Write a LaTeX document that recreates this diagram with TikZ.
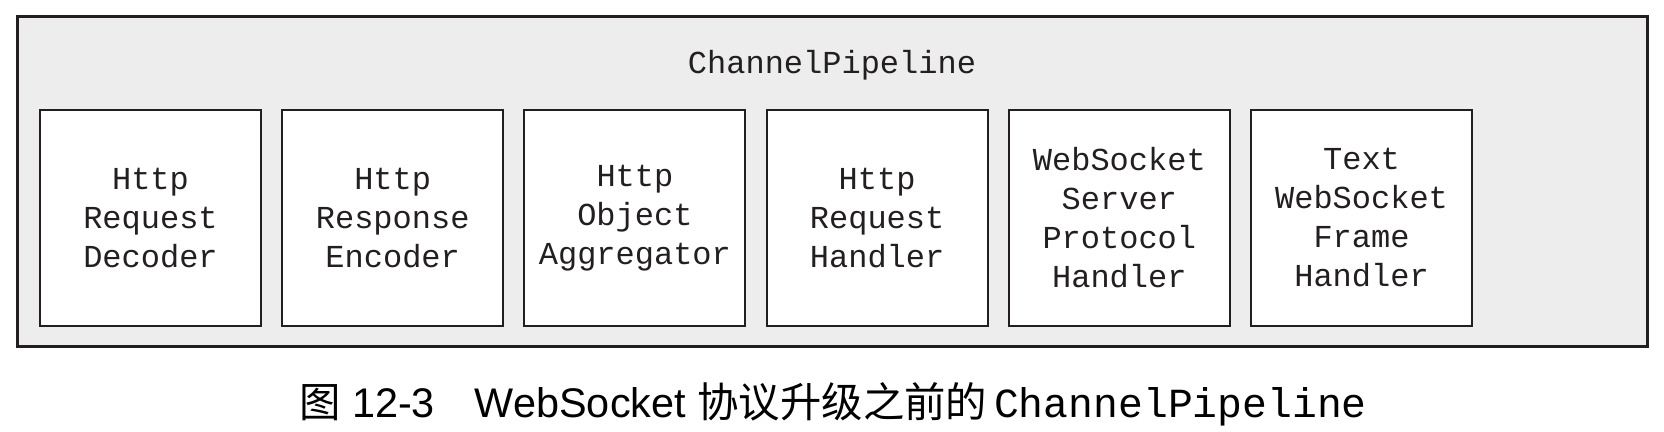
\documentclass[tikz,border=0pt]{standalone}
\usepackage{fontspec}
\setmainfont{Liberation Sans}
\setmonofont{Liberation Mono}
\newfontfamily\cjk{Noto Sans CJK SC}
\usetikzlibrary{positioning}
\definecolor{pipegray}{HTML}{EDEDED}
\definecolor{edgeblack}{HTML}{231F20}
\tikzset{
	handler/.style={draw=edgeblack, line width=1pt, fill=white, text=edgeblack,
		minimum width=110.5pt, minimum height=108pt, inner sep=0pt, align=center,
		font=\ttfamily\fontsize{16}{19.5}\selectfont},
	handler gap/.style={right=9.6pt of #1},
}

\begin{document}
\begin{tikzpicture}[x=0.5pt, y=-0.5pt]
	\useasboundingbox (0, 0) rectangle (1664, 432);
	\node [draw=edgeblack, line width=1.5pt, fill=pipegray, minimum width=815pt, minimum height=165pt] (Pipeline) at (832, 182) {};
	\node [text=edgeblack, font=\ttfamily\fontsize{16}{19.5}\selectfont] (Title) at (832, 65) {ChannelPipeline};
	\node [handler] (Decoder) at (150.5, 218) {Http\\Request\\Decoder};
	\node [handler, handler gap=Decoder] (Encoder) {Http\\Response\\Encoder};
	\node [handler, handler gap=Encoder] (Aggregator) {Http\\Object\\Aggregator};
	\node [handler, handler gap=Aggregator] (Request) {Http\\Request\\Handler};
	\node [handler, handler gap=Request] (Protocol) {WebSocket\\Server\\Protocol\\Handler};
	\node [handler, handler gap=Protocol] (Frame) {Text\\WebSocket\\Frame\\Handler};
	% caption
	\node [font=\fontsize{20.7}{24}\selectfont] (Caption) at (833, 404)
		{{\cjk 图} 12-3\hspace{20pt}WebSocket {\cjk 协议升级之前的}\,{\ttfamily ChannelPipeline}};
\end{tikzpicture}
\end{document}
